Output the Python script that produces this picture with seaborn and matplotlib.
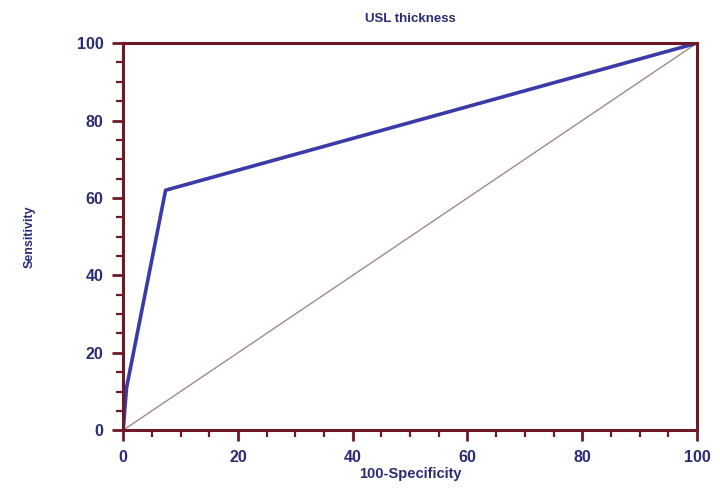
import numpy as np
import matplotlib.pyplot as plt
from matplotlib.ticker import MultipleLocator
import seaborn as sns
import pandas as pd

# ROC curve
fpr = [0, 0.6, 7.4, 100]
tpr = [0, 11, 62, 100]
diag_x = [0, 100]
diag_y = [0, 100]

sns.set_theme(style="white")
plt.rcParams['font.family'] = ['Liberation Sans', 'DejaVu Sans']

navy = "#2b2b78"
spine_col = "#6e1a26"

df = pd.DataFrame({"x": fpr, "y": tpr})
diag = pd.DataFrame({"x": diag_x, "y": diag_y})

fig = plt.figure(figsize=(7.2, 4.9), dpi=100)
ax = fig.add_axes([0.171, 0.122, 0.797, 0.790])

sns.lineplot(data=diag, x="x", y="y", ax=ax, color="#a08a8a", linewidth=1.0, sort=False)
sns.lineplot(data=df, x="x", y="y", ax=ax, color="#3a3aa8", linewidth=2.6, sort=False)

ax.set_xlim(0, 100)
ax.set_ylim(0, 100)
ax.xaxis.set_major_locator(MultipleLocator(20))
ax.xaxis.set_minor_locator(MultipleLocator(5))
ax.yaxis.set_major_locator(MultipleLocator(20))
ax.yaxis.set_minor_locator(MultipleLocator(5))

for s in ax.spines.values():
    s.set_color(spine_col)
    s.set_linewidth(2.2)

ax.tick_params(which="major", direction="out", length=8, width=2, color=spine_col,
               left=True, bottom=True, labelsize=11.5, labelcolor=navy, pad=6)
ax.tick_params(which="minor", direction="out", length=5, width=1.6, color=spine_col,
               left=True, bottom=True)
for lab in ax.get_xticklabels() + ax.get_yticklabels():
    lab.set_fontweight("bold")

ax.set_title("USL thickness", fontsize=9.5, fontweight="bold", color=navy, pad=15)
ax.set_xlabel("100-Specificity", fontsize=10.5, fontweight="bold", color=navy, labelpad=2)
ax.set_ylabel("Sensitivity", fontsize=9, fontweight="bold", color=navy, labelpad=30,
              fontstretch="condensed")

fig.savefig("out.png", dpi=100)
